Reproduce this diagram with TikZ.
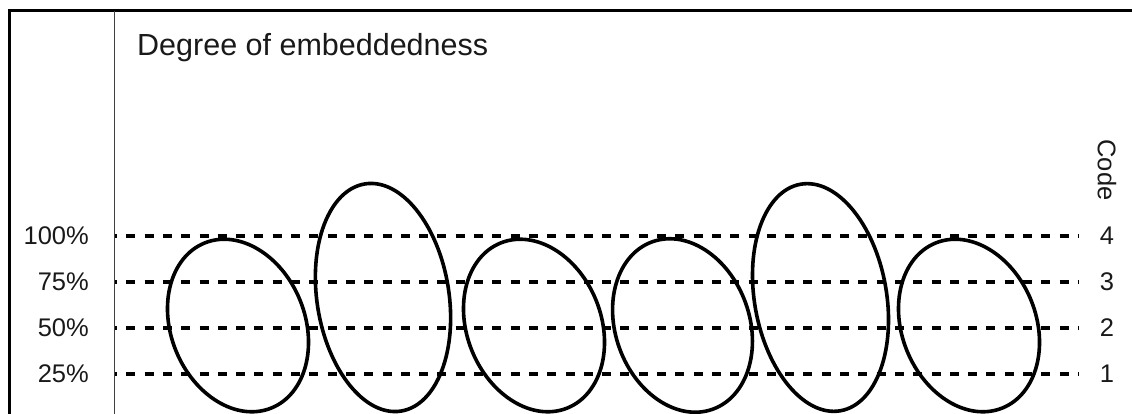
\documentclass[tikz,border=0pt]{standalone}
\usepackage{fontspec}
\setmainfont{Liberation Sans}
\begin{document}
\begin{tikzpicture}[x=1pt,y=1pt,
  txt/.style={inner sep=0pt, text=black!90, font=\fontsize{25.5}{30}\selectfont},
  lvl/.style={line width=3.6pt, dash pattern=on 9pt off 9.3pt, dash phase=7pt},
  oval/.style={line width=3.6pt},
  frameline/.style={line width=3pt, line join=miter}]
\useasboundingbox (0,0) rectangle (1132,414);
% frame
\coordinate (fbl) at (9,0);
\coordinate (ftl) at (9,403);
\coordinate (ftr) at (1132,403);
\draw[frameline] (fbl) -- (ftl) -- (ftr);
\coordinate (ib) at (114,0);
\coordinate (it) at (114,403);
\draw[line width=1pt, black!75] (ib) -- (it);
% title
\node[txt, anchor=base west, font=\fontsize{30.5}{36}\selectfont] (title) at (137,358) {Degree of embeddedness};
% levels
\foreach \y/\p/\c [count=\i] in {178/100\%/4, 132/75\%/3, 86/50\%/2, 40/25\%/1}{
  \coordinate (l\i) at (115,\y);
  \coordinate (r\i) at (1078,\y);
  \draw[lvl] (l\i) -- (r\i);
  \node[txt, anchor=east] (pct\i) at (89,\y) {\p};
  \node[txt] (code\i) at (1107,\y) {\c};
}
\node[txt, rotate=-90] (code) at (1107,244) {Code};
% ovals
\draw[oval, rotate around={22:(238,88.5)}] (238,88.5) ellipse [x radius=67, y radius=89];
\draw[oval, rotate around={9:(383,116.5)}] (383,116.5) ellipse [x radius=66, y radius=115];
\draw[oval, rotate around={22:(534,88.5)}] (534,88.5) ellipse [x radius=67, y radius=89];
\draw[oval, rotate around={20:(682.5,88.5)}] (682.5,88.5) ellipse [x radius=67, y radius=89];
\draw[oval, rotate around={10:(820.5,116.5)}] (820.5,116.5) ellipse [x radius=66, y radius=115];
\draw[oval, rotate around={22:(969,88.5)}] (969,88.5) ellipse [x radius=67, y radius=89];
\end{tikzpicture}
\end{document}
